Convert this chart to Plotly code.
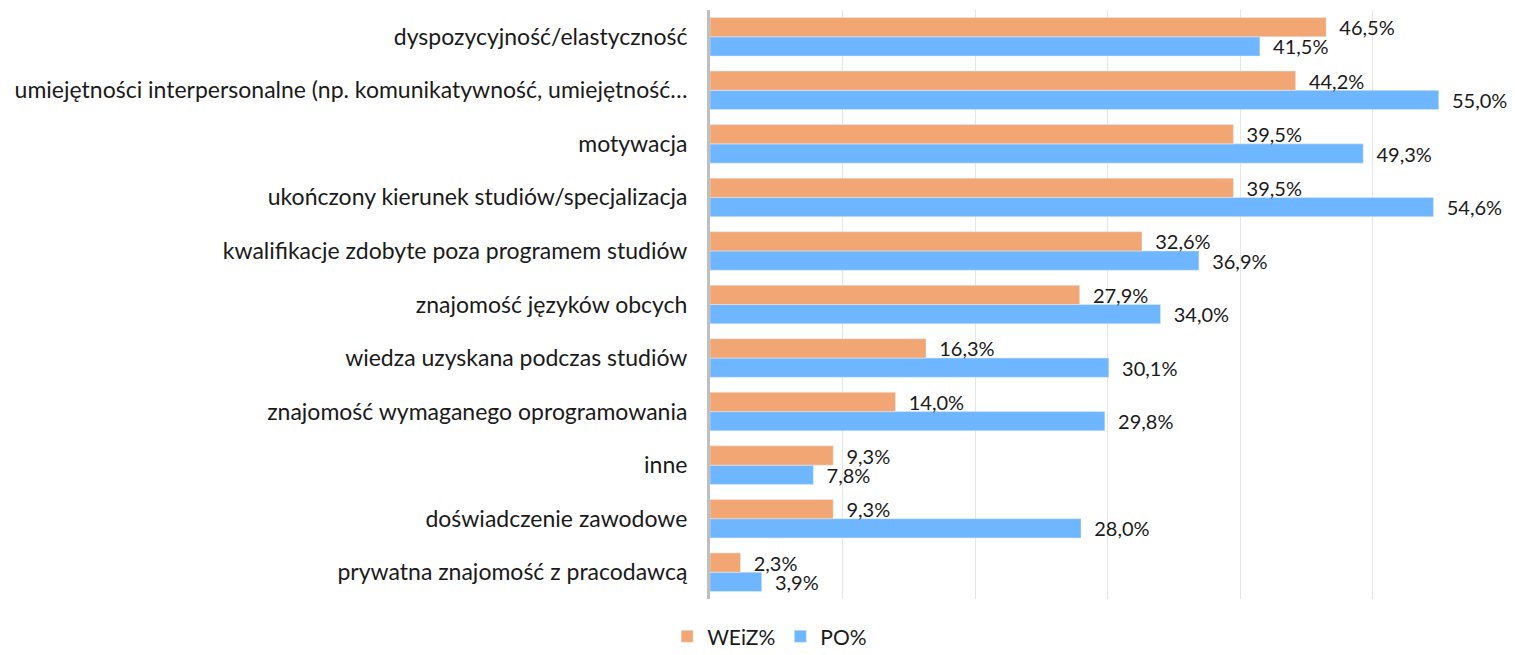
import plotly.graph_objects as go

categories = [
    "dyspozycyjność/elastyczność",
    "umiejętności interpersonalne (np. komunikatywność, umiejętność…",
    "motywacja",
    "ukończony kierunek studiów/specjalizacja",
    "kwalifikacje zdobyte poza programem studiów",
    "znajomość języków obcych",
    "wiedza uzyskana podczas studiów",
    "znajomość wymaganego oprogramowania",
    "inne",
    "doświadczenie zawodowe",
    "prywatna znajomość z pracodawcą",
]
weiz = [46.5, 44.2, 39.5, 39.5, 32.6, 27.9, 16.3, 14.0, 9.3, 9.3, 2.3]
po = [41.5, 55.0, 49.3, 54.6, 36.9, 34.0, 30.1, 29.8, 7.8, 28.0, 3.9]

FONT = "Lato"
TXT = "#1a1a1a"
FS = 23
LFS = 20

fig = go.Figure()
# PO drawn first (lower bar in each group), WEiZ second so its labels sit on top
fig.add_trace(go.Bar(
    y=categories, x=po, orientation="h", name="PO%",
    marker=dict(color="#6EB6FF"), legendrank=2,
    texttemplate="\u00a0\u00a0%{x:.1f}%", textposition="outside",
    constraintext="none",
    textfont=dict(size=LFS, color=TXT, family=FONT), cliponaxis=False,
))
fig.add_trace(go.Bar(
    y=categories, x=weiz, orientation="h", name="WEiZ%",
    marker=dict(color="#F1A673"), legendrank=1,
    texttemplate="\u00a0\u00a0%{x:.1f}%", textposition="outside",
    constraintext="none",
    textfont=dict(size=LFS, color=TXT, family=FONT), cliponaxis=False,
))

fig.update_layout(
    width=1515, height=655,
    barmode="group", bargap=0.28, bargroupgap=0,
    separators=", ",
    plot_bgcolor="white", paper_bgcolor="white",
    margin=dict(l=710, r=10, t=10, b=56),
    font=dict(family=FONT, size=FS, color=TXT),
    xaxis=dict(range=[0, 60], dtick=10, showticklabels=False,
               showgrid=True, gridcolor="#e6e6e6", gridwidth=1,
               zeroline=False, fixedrange=True),
    yaxis=dict(categoryorder="array", categoryarray=categories[::-1],
               showline=True, linecolor="#bfbfbf",
               linewidth=3, ticks="", ticklabelstandoff=15,
               tickfont=dict(size=FS, color=TXT, family=FONT)),
    legend=dict(orientation="h", x=0.075, xanchor="center",
                yref="container", y=0.028, yanchor="middle",
                font=dict(size=21, color=TXT, family=FONT),
                itemwidth=30),
)

fig.write_html("out.html", config={"displayModeBar": False},
               post_script="document.body.style.margin='0';")
